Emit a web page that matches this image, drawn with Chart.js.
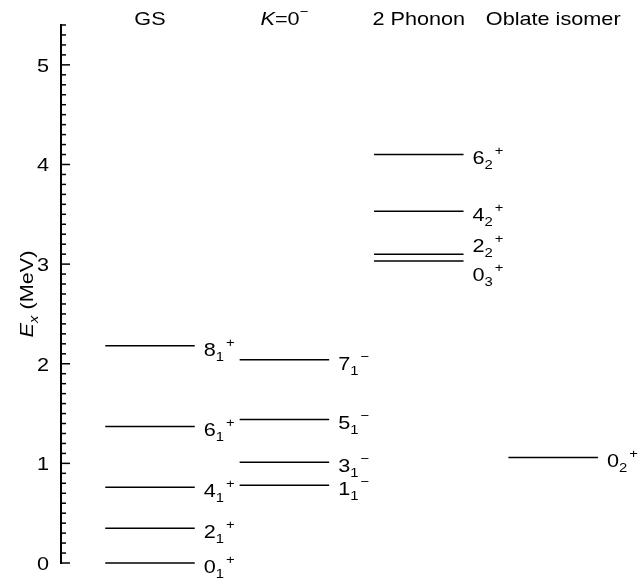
<!DOCTYPE html>
<html>
<head>
<meta charset="utf-8">
<script src="https://cdn.jsdelivr.net/npm/chart.js@4.4.1/dist/chart.umd.min.js"></script>
<style>
  html, body { margin: 0; padding: 0; background: #fff; }
  canvas { display: block; }
</style>
</head>
<body>
<canvas id="levels" width="638" height="579"></canvas>
<script>
// column titles (x positions 1..4)
const columns = ['GS', '*K*=0^{−}', '2 Phonon', 'Oblate isomer'];

// level energies (MeV) and spin labels, per column
const gsEnergies = [0, 0.35, 0.76, 1.37, 2.18];
const gsLabels = ['0_{1}^{+}', '2_{1}^{+}', '4_{1}^{+}', '6_{1}^{+}', '8_{1}^{+}'];

const k0Energies = [0.78, 1.01, 1.44, 2.04];
const k0Labels = ['1_{1}^{−}', '3_{1}^{−}', '5_{1}^{−}', '7_{1}^{−}'];

const phononEnergies = [3.03, 3.10, 3.53, 4.10];
const phononLabels = ['0_{3}^{+}', '2_{2}^{+}', '4_{2}^{+}', '6_{2}^{+}'];

const oblateEnergies = [1.06];
const oblateLabels = ['0_{2}^{+}'];

// y axis
const yMin = 0;
const yMax = 5.4;
const yMinorStep = 0.1;
const yTitle = '*E*_{**x**} (MeV)';

const columnLevels = [
    { energies: gsEnergies, labels: gsLabels },
    { energies: k0Energies, labels: k0Labels },
    { energies: phononEnergies, labels: phononLabels },
    { energies: oblateEnergies, labels: oblateLabels }
];

// style bits
const HALF_WIDTH = 0.333;      // half length of a level line, in column units
const STRETCH = 1.14;          // the reference font is a bit wider than Liberation Sans
const MAIN_SIZE = 19;
const SMALL_SIZE = 13;
const labelNudge = { '2_{2}^{+}': -12, '0_{3}^{+}': 10 };

// one line dataset per level
const datasets = [];
columnLevels.forEach((col, i) => {
    col.energies.forEach((e, j) => {
        datasets.push({
            label: col.labels[j],
            data: [{ x: i + 1 - HALF_WIDTH, y: e }, { x: i + 1 + HALF_WIDTH, y: e }],
            showLine: true,
            borderColor: '#000',
            borderWidth: 1.5,
            pointRadius: 0,
            clip: false
        });
    });
});

// tiny markup: *italic*, _{sub}, ^{sup}
function parseRich(str) {
    const segs = [];
    let italic = false, mode = 'n', buf = '', i = 0;
    const flush = () => { if (buf) segs.push({ text: buf, italic: italic, mode: mode }); buf = ''; };
    while (i < str.length) {
        const c = str[i];
        if (c === '*') { flush(); italic = !italic; i++; if (str[i] === '*') i++; }
        else if ((c === '_' || c === '^') && str[i + 1] === '{') { flush(); mode = c === '_' ? 'sub' : 'sup'; i += 2; }
        else if (c === '}' && mode !== 'n') { flush(); mode = 'n'; i++; }
        else { buf += c; i++; }
    }
    flush();
    return segs;
}

function fontFor(seg, size, small) {
    const s = seg.mode === 'n' ? size : small;
    return (seg.italic ? 'italic ' : '') + s + 'px "Liberation Sans", Arial, Helvetica, sans-serif';
}

// draws rich text with baseline at y; align left/center/right
function drawRich(ctx, str, x, y, align, size, small) {
    size = size || MAIN_SIZE;
    small = small || SMALL_SIZE;
    const segs = parseRich(str);
    let prev = 'n';
    segs.forEach(seg => {
        ctx.font = fontFor(seg, size, small);
        seg.w = ctx.measureText(seg.text).width * STRETCH;
        seg.gap = (seg.mode === 'sup' && prev === 'sub') ? 2 : 0;
        prev = seg.mode;
    });
    const total = segs.reduce((a, s) => a + s.w + s.gap, 0);
    let cx = align === 'center' ? x - total / 2 : align === 'right' ? x - total : x;
    segs.forEach(seg => {
        cx += seg.gap;
        const dy = seg.mode === 'sub' ? 5 : seg.mode === 'sup' ? -9 : 0;
        ctx.save();
        ctx.font = fontFor(seg, size, small);
        ctx.textAlign = 'left';
        ctx.textBaseline = 'alphabetic';
        ctx.fillStyle = '#000';
        ctx.translate(cx, y + dy);
        ctx.scale(STRETCH, 1);
        ctx.fillText(seg.text, 0, 0);
        ctx.restore();
        cx += seg.w;
    });
}

const levelDecor = {
    id: 'levelDecor',
    afterDraw(chart) {
        const ctx = chart.ctx;
        const xs = chart.scales.x;
        const ys = chart.scales.y;
        const area = chart.chartArea;
        ctx.save();

        // inward tick marks, longer at whole MeV
        ctx.strokeStyle = '#000';
        ctx.lineWidth = 1.5;
        ys.ticks.forEach(t => {
            const py = ys.getPixelForValue(t.value);
            const major = Math.abs(t.value - Math.round(t.value)) < 1e-6;
            ctx.beginPath();
            ctx.moveTo(area.left, py);
            ctx.lineTo(area.left + (major ? 9 : 5), py);
            ctx.stroke();
            if (major) {
                drawRich(ctx, String(Math.round(t.value)), area.left - 12, py + 7, 'right');
            }
        });

        // axis title
        ctx.save();
        ctx.translate(32.5, (area.top + area.bottom) / 2);
        ctx.rotate(-Math.PI / 2);
        drawRich(ctx, yTitle, 0, 0, 'center');
        ctx.restore();

        // column headings
        columns.forEach((c, i) => {
            drawRich(ctx, c, xs.getPixelForValue(i + 1), area.top, 'center');
        });

        // level labels
        chart.data.datasets.forEach(ds => {
            const end = ds.data[1];
            const px = xs.getPixelForValue(end.x) + 9;
            const py = ys.getPixelForValue(end.y) + 3 + 6.8 + (labelNudge[ds.label] || 0);
            drawRich(ctx, ds.label, px, py, 'left');
        });

        ctx.restore();
    }
};

new Chart(document.getElementById('levels').getContext('2d'), {
    type: 'scatter',
    data: { datasets: datasets },
    options: {
        responsive: false,
        animation: false,
        layout: { padding: { top: 25, bottom: 16, left: 0, right: 0 } },
        plugins: { legend: { display: false }, tooltip: { enabled: false } },
        scales: {
            x: {
                type: 'linear',
                min: 0.3378,
                max: 4.631,
                display: false
            },
            y: {
                type: 'linear',
                min: yMin,
                max: yMax,
                ticks: { display: false, stepSize: yMinorStep, autoSkip: false },
                grid: { display: false, drawTicks: false },
                border: { display: true, color: '#000', width: 2 },
                afterFit: scale => { scale.width = 61; }
            }
        }
    },
    plugins: [levelDecor]
});
</script>
</body>
</html>
